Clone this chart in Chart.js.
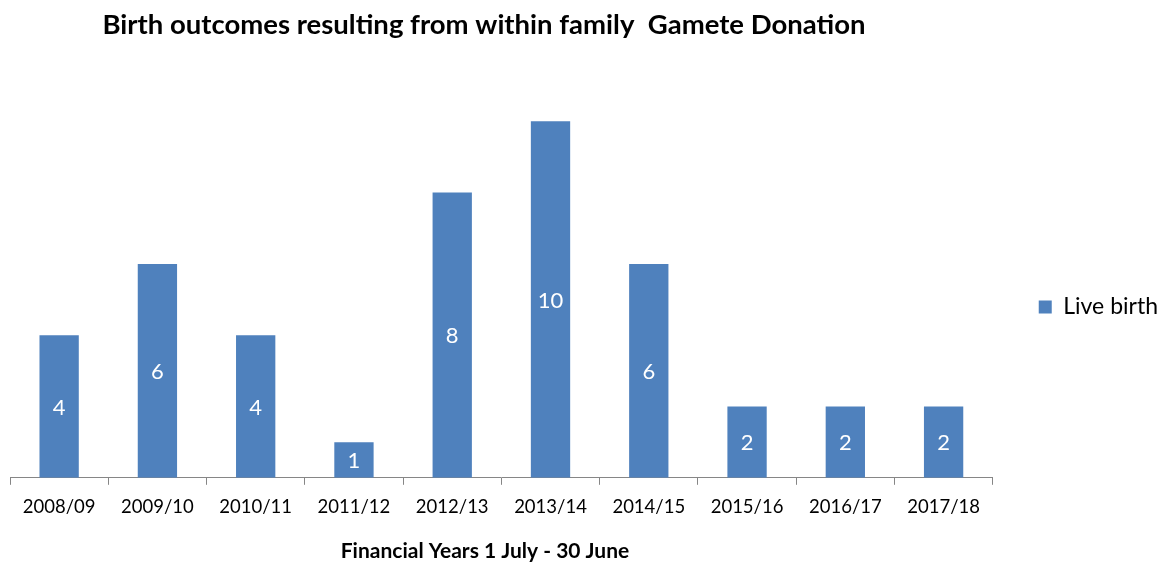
<!DOCTYPE html>
<html>
<head>
<meta charset="utf-8">
<script src="https://cdn.jsdelivr.net/npm/chart.js@4"></script>
<style>
  html, body { margin: 0; padding: 0; background: #fff; }
  #wrap { width: 1164px; height: 564px; }
</style>
</head>
<body>
<div id="wrap"><canvas id="myChart"></canvas></div>
<script>
const years = ['2008/09', '2009/10', '2010/11', '2011/12', '2012/13', '2013/14', '2014/15', '2015/16', '2016/17', '2017/18'];
const liveBirths = [4, 6, 4, 1, 8, 10, 6, 2, 2, 2];
const seriesName = 'Live birth';
const chartTitle = 'Birth outcomes resulting from within family  Gamete Donation';
const axisTitle = 'Financial Years 1 July - 30 June';

const fontFamily = 'Lato, "Open Sans", sans-serif';

// white value labels in the middle of each bar
const barLabels = {
    id: 'barLabels',
    afterDatasetsDraw(chart) {
        const ctx = chart.ctx;
        const meta = chart.getDatasetMeta(0);
        ctx.save();
        ctx.fillStyle = '#ffffff';
        ctx.font = '22px ' + fontFamily;
        ctx.textAlign = 'center';
        ctx.textBaseline = 'middle';
        meta.data.forEach((bar, i) => {
            ctx.fillText(String(liveBirths[i]), bar.x, (bar.y + bar.base) / 2 + 1);
        });
        ctx.restore();
    }
};

// chart title and x axis title, placed like the original (not centred on the plot)
const titles = {
    id: 'titles',
    afterDraw(chart) {
        const ctx = chart.ctx;
        ctx.save();
        ctx.fillStyle = '#000000';
        ctx.textAlign = 'center';
        ctx.textBaseline = 'middle';
        ctx.font = 'bold 27.5px ' + fontFamily;
        ctx.fillText(chartTitle, 484, 25);
        ctx.font = 'bold 21px ' + fontFamily;
        ctx.fillText(axisTitle, 485, 551);
        ctx.restore();
    }
};

new Chart(document.getElementById('myChart'), {
    type: 'bar',
    data: {
        labels: years,
        datasets: [{
            label: seriesName,
            data: liveBirths,
            backgroundColor: '#4F81BD',
            categoryPercentage: 1,
            barPercentage: 0.4
        }]
    },
    options: {
        responsive: true,
        maintainAspectRatio: false,
        animation: false,
        layout: { padding: { top: 50, left: 10, right: -4, bottom: 0 } },
        plugins: {
            title: { display: false },
            tooltip: { enabled: false },
            legend: {
                position: 'right',
                labels: {
                    boxWidth: 13,
                    boxHeight: 13,
                    color: '#000000',
                    font: { family: fontFamily, size: 23 },
                    padding: 1
                }
            }
        },
        scales: {
            x: {
                grid: {
                    display: true,
                    drawOnChartArea: false,
                    tickLength: 7,
                    color: '#868686'
                },
                border: { color: '#868686', width: 1 },
                ticks: {
                    color: '#000000',
                    font: { family: fontFamily, size: 18.5 },
                    maxRotation: 0,
                    padding: 11
                },
                // room below the tick labels for the axis title
                afterFit: (scale) => { scale.height += 35; }
            },
            y: {
                // invisible, only keeps a gap between the plot and the legend
                display: true,
                position: 'right',
                min: 0,
                max: 12,
                ticks: { display: false },
                grid: { display: false },
                border: { display: false },
                afterFit: (scale) => { scale.width = 45; }
            }
        }
    },
    plugins: [barLabels, titles]
});
</script>
</body>
</html>
